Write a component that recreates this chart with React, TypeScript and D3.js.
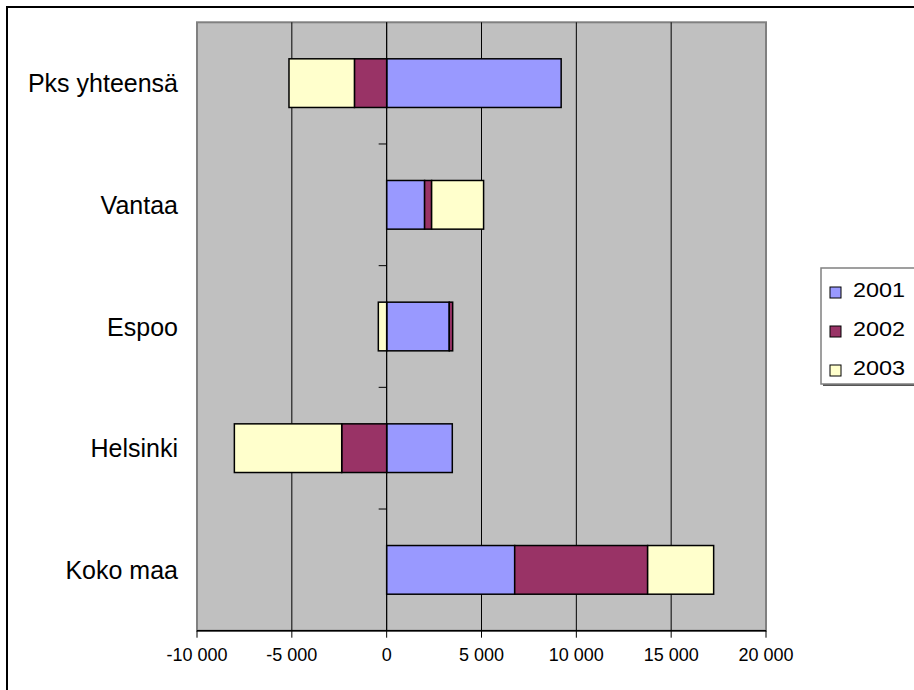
import React from "react";
import * as d3 from "d3";

const categories = ["Pks yhteensä", "Vantaa", "Espoo", "Helsinki", "Koko maa"];
const seriesNames = ["2001", "2002", "2003"];
const values2001 = [9200, 2000, 3300, 3460, 6750];
const values2002 = [-1700, 370, 180, -2370, 7010];
const values2003 = [-3450, 2740, -440, -5660, 3480];
const xTicks = [-10000, -5000, 0, 5000, 10000, 15000, 20000];
const colors = ["#9999FF", "#993366", "#FFFFCC"];

const W = 914;
const H = 690;
const plot = { left: 197, right: 766, top: 22.3, bottom: 630.7 };

function fmt(v: number) {
  const s = Math.abs(v).toString();
  const withSpace = s.replace(/\B(?=(\d{3})+(?!\d))/g, " ");
  return (v < 0 ? "-" : "") + withSpace;
}

export default function App() {
  const x = d3.scaleLinear().domain([-10000, 20000]).range([plot.left, plot.right]);
  const y = d3
    .scaleBand<string>()
    .domain(categories)
    .range([plot.top, plot.bottom])
    .paddingInner(0.6)
    .paddingOuter(0.3);
  const step = y.step();

  const rows = categories.map((c, i) => ({
    cat: c,
    "2001": values2001[i],
    "2002": values2002[i],
    "2003": values2003[i],
  }));
  const stacked = d3
    .stack<any>()
    .keys(seriesNames)
    .offset(d3.stackOffsetDiverging)(rows);

  const font = "'Liberation Sans', Arial, sans-serif";
  const x0 = x(0);

  return (
    <svg
      width={W}
      height={H}
      style={{ position: "absolute", left: 0, top: 0, background: "#fff", overflow: "hidden" }}
      fontFamily={font}
    >
      <rect x={7} y={7} width={W + 40} height={H + 40} fill="#fff" stroke="#000" strokeWidth={2} />
      <rect
        x={plot.left}
        y={plot.top}
        width={plot.right - plot.left}
        height={plot.bottom - plot.top}
        fill="#C0C0C0"
        stroke="#808080"
        strokeWidth={2}
      />
      {xTicks.slice(1, -1).map((t) => (
        <line key={t} x1={x(t)} x2={x(t)} y1={plot.top} y2={plot.bottom} stroke="#000" strokeWidth={1} />
      ))}
      {stacked.map((s, si) => (
        <g key={s.key}>
          {s.map((d, i) => {
            const a = x(d[0]);
            const b = x(d[1]);
            const yy = y(categories[i])!;
            return (
              <rect
                key={i}
                x={Math.min(a, b)}
                y={yy}
                width={Math.abs(b - a)}
                height={y.bandwidth()}
                fill={colors[si]}
                stroke="#000"
                strokeWidth={1.5}
              />
            );
          })}
        </g>
      ))}
      <line x1={x0} x2={x0} y1={plot.top} y2={plot.bottom} stroke="#000" strokeWidth={1} />
      {categories.map((c, i) =>
        i === 0 ? null : (
          <line
            key={c}
            x1={x0 - 8}
            x2={x0}
            y1={plot.top + step * i}
            y2={plot.top + step * i}
            stroke="#000"
            strokeWidth={1}
          />
        )
      )}
      <line x1={plot.left} x2={plot.right} y1={plot.bottom} y2={plot.bottom} stroke="#000" strokeWidth={1.5} />
      {xTicks.map((t) => (
        <g key={t}>
          <line x1={x(t)} x2={x(t)} y1={plot.bottom} y2={plot.bottom + 7} stroke="#000" strokeWidth={1} />
          <text x={x(t)} y={661} textAnchor="middle" fontSize={18} fill="#000">
            {fmt(t)}
          </text>
        </g>
      ))}
      {categories.map((c) => (
        <text
          key={c}
          x={178}
          y={y(c)! + y.bandwidth() / 2 + 9}
          textAnchor="end"
          fontSize={25}
          fill="#000"
        >
          {c}
        </text>
      ))}
      <rect x={823} y={270} width={200} height={116} fill="#555" />
      <rect x={821} y={268} width={200} height={116} fill="#fff" stroke="#808080" strokeWidth={1.5} />
      {seriesNames.map((s, i) => (
        <g key={s}>
          <rect x={830} y={287 + i * 39} width={11} height={11} fill={colors[i]} stroke="#000" strokeWidth={1} />
          <text
            transform={`translate(853, ${297 + i * 39}) scale(1.2, 1)`}
            fontSize={19.5}
            fill="#000"
          >
            {s}
          </text>
        </g>
      ))}
    </svg>
  );
}
